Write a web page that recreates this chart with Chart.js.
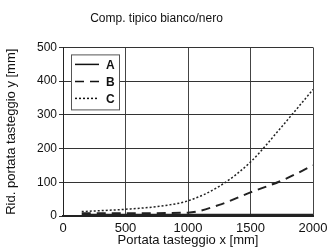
<!DOCTYPE html>
<html>
<head>
<meta charset="utf-8">
<script src="https://cdn.jsdelivr.net/npm/chart.js@4/dist/chart.umd.min.js"></script>
<style>
  html, body { margin: 0; padding: 0; background: #fff; }
  #wrap { width: 333px; height: 248px; }
</style>
</head>
<body>
<div id="wrap"><canvas id="chart"></canvas></div>
<script>
const FONT = "'Liberation Sans Narrow', 'Liberation Sans', Arial, sans-serif";

// values
const seriesNames = ['A', 'B', 'C'];
const aX = [150, 500, 1000, 1500, 2000];
const aY = [2, 2, 2, 2, 2];
const bX = [150, 500, 1000, 1250, 1500, 1750, 2000];
const bY = [8, 8, 10, 33, 70, 105, 150];
const cX = [150, 500, 750, 1000, 1250, 1500, 1750, 2000];
const cY = [13, 20, 28, 45, 88, 160, 265, 375];
const xTicks = [0, 500, 1000, 1500, 2000];
const yMax = 500;

const toPoints = (xs, ys) => xs.map((x, i) => ({ x: x, y: ys[i] }));

// legend box drawn inside the plot, top-left, white with a frame
const boxLegend = {
  id: 'boxLegend',
  afterDatasetsDraw(chart) {
    const { ctx, chartArea } = chart;
    const left = chartArea.left + 8, top = chartArea.top + 7;
    const w = 48, h = 55, row = 17;
    ctx.save();
    ctx.fillStyle = '#fff';
    ctx.fillRect(left, top, w, h);
    ctx.strokeStyle = '#555';
    ctx.lineWidth = 1;
    ctx.strokeRect(left + 0.5, top + 0.5, w, h);
    chart.data.datasets.forEach((ds, i) => {
      const y = top + 10 + i * row;
      ctx.beginPath();
      ctx.setLineDash(ds.borderDash || []);
      ctx.lineWidth = 1.5;
      ctx.strokeStyle = '#111';
      ctx.moveTo(left + 4, y);
      ctx.lineTo(left + 28, y);
      ctx.stroke();
      ctx.setLineDash([]);
      ctx.fillStyle = '#111';
      ctx.font = 'bold 12px ' + FONT;
      ctx.textBaseline = 'middle';
      ctx.textAlign = 'left';
      ctx.fillText(ds.label, left + 35, y + 1);
    });
    ctx.restore();
  }
};

new Chart(document.getElementById('chart'), {
  type: 'line',
  data: {
    datasets: [
      { label: seriesNames[0], data: toPoints(aX, aY), borderColor: '#222', borderWidth: 3, pointRadius: 0, tension: 0 },
      { label: seriesNames[1], data: toPoints(bX, bY), borderColor: '#222', borderWidth: 2, borderDash: [9, 6], pointRadius: 0, tension: 0.4, cubicInterpolationMode: 'monotone' },
      { label: seriesNames[2], data: toPoints(cX, cY), borderColor: '#222', borderWidth: 1.5, borderDash: [2, 2], pointRadius: 0, tension: 0.4, cubicInterpolationMode: 'monotone' }
    ]
  },
  options: {
    responsive: true,
    maintainAspectRatio: false,
    animation: false,
    layout: { padding: { left: 0, right: 20, top: 0, bottom: 0 } },
    plugins: {
      legend: { display: false },
      tooltip: { enabled: false },
      title: {
        display: true,
        text: 'Comp. tipico bianco/nero',
        color: '#111',
        font: { family: FONT, size: 12, weight: 'normal' },
        padding: { top: 11, bottom: 22 }
      }
    },
    scales: {
      x: {
        type: 'linear',
        min: 0,
        max: 2000,
        afterBuildTicks: (scale) => { scale.ticks = xTicks.map(v => ({ value: v })); },
        ticks: { color: '#111', font: { family: FONT, size: 13 }, padding: 5, maxRotation: 0, callback: (v) => String(v) },
        grid: { color: '#444', lineWidth: 1, drawTicks: false },
        border: { color: '#222', width: 2 },
        title: { display: true, text: 'Portata tasteggio x [mm]', color: '#111', font: { family: FONT, size: 13 }, padding: { top: 0, bottom: 0 } },
        afterFit: (scale) => { scale.height = 32; }
      },
      y: {
        min: 0,
        max: yMax,
        ticks: { stepSize: 50, color: '#111', font: { family: FONT, size: 12 }, padding: 2 },
        grid: { color: (c) => (c.index % 2 ? '#777' : '#333'), lineWidth: 1, tickLength: 4, tickColor: '#333' },
        border: { color: '#222', width: 1 },
        title: { display: true, text: 'Rid. portata tasteggio y [mm]', color: '#111', font: { family: FONT, size: 13 }, padding: { top: 4, bottom: 0 } },
        afterFit: (scale) => { scale.width = 63; }
      }
    }
  },
  plugins: [boxLegend]
});
</script>
</body>
</html>
